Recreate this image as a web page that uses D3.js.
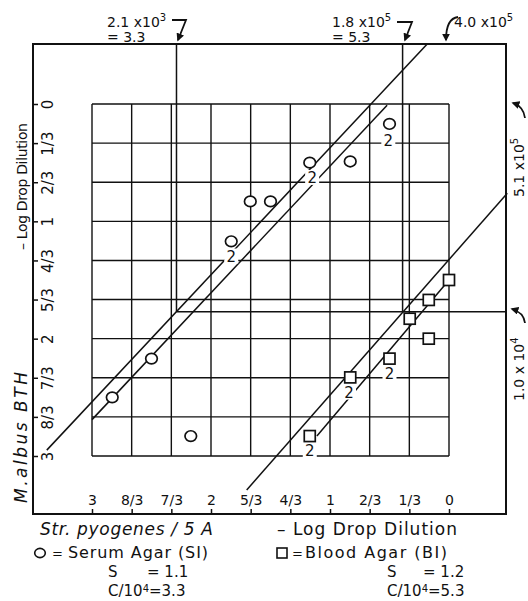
<!DOCTYPE html>
<html>
<head>
<meta charset="utf-8">
<script src="https://cdn.jsdelivr.net/npm/d3@7"></script>
<style>
  body { margin: 0; background: #fff; }
  svg { display: block; }
  svg text { font-family: "DejaVu Sans", sans-serif; fill: #111; }
</style>
</head>
<body>
<script>
// both axes are "- log drop dilution", in thirds
const tickValues = [0, 1/3, 2/3, 1, 4/3, 5/3, 2, 7/3, 8/3, 3];
const tickLabels = ["0", "1/3", "2/3", "1", "4/3", "5/3", "2", "7/3", "8/3", "3"];

// serum agar (circles)
const serumX = [2.83, 2.5, 2.17, 1.83, 1.67, 1.5, 1.17, 0.83, 0.5];
const serumY = [2.5, 2.17, 2.83, 1.17, 0.83, 0.83, 0.5, 0.49, 0.17];
// blood agar (squares)
const bloodX = [1.17, 0.83, 0.5, 0.33, 0.17, 0.17, 0];
const bloodY = [2.83, 2.33, 2.17, 1.83, 2.0, 1.67, 1.5];

// "2" marks (duplicate readings)
const dupX = [1.83, 1.15, 0.51, 0.84, 0.5, 1.17];
const dupY = [1.3, 0.63, 0.31, 2.46, 2.3, 2.95];

// fitted lines [x1, y1, x2, y2]
const serumLines = [[3.38, 2.95, 0.185, -0.51], [3.0, 2.69, 0.52, 0.01]];
const bloodLines = [[1.7, 3.29, -0.49, 0.76], [1.11, 2.83, 0, 1.5]];

// end point reading lines
const endX = [2.29, 0.39];
const endY = 1.77;

const W = 528, H = 601;
const frame = {left: 33, top: 44, right: 506, bottom: 514};

const svg = d3.select("body").append("svg")
    .attr("width", W).attr("height", H)
    .style("font-family", "'DejaVu Sans', sans-serif");

const x = d3.scaleLinear().domain([3, 0]).range([92, 449]);
const y = d3.scaleLinear().domain([0, 3]).range([104, 456]);

svg.append("defs").append("marker")
    .attr("id", "arr")
    .attr("viewBox", "0 0 10 10")
    .attr("refX", 8).attr("refY", 5)
    .attr("markerWidth", 8).attr("markerHeight", 8)
    .attr("markerUnits", "userSpaceOnUse")
    .attr("orient", "auto")
  .append("path")
    .attr("d", "M0,0 L10,5 L0,10 z")
    .attr("fill", "#111");

// grid
const grid = svg.append("g").attr("stroke", "#111").attr("stroke-width", 1.4);
grid.selectAll("line.v").data(tickValues).join("line")
    .attr("class", "v")
    .attr("x1", d => x(d)).attr("x2", d => x(d))
    .attr("y1", y(0)).attr("y2", y(3));
grid.selectAll("line.h").data(tickValues).join("line")
    .attr("class", "h")
    .attr("x1", x(3)).attr("x2", x(0))
    .attr("y1", d => y(d)).attr("y2", d => y(d));

// outer frame
svg.append("rect")
    .attr("x", frame.left).attr("y", frame.top)
    .attr("width", frame.right - frame.left)
    .attr("height", frame.bottom - frame.top)
    .attr("fill", "none").attr("stroke", "#111").attr("stroke-width", 2);

// end point reading lines
const ref = svg.append("g").attr("stroke", "#111").attr("stroke-width", 1.5);
ref.selectAll("line.rv").data(endX).join("line")
    .attr("class", "rv")
    .attr("x1", d => x(d)).attr("x2", d => x(d))
    .attr("y1", frame.top).attr("y2", y(endY));
ref.append("line")
    .attr("x1", x(endX[0])).attr("x2", frame.right)
    .attr("y1", y(endY)).attr("y2", y(endY));

// fitted lines
svg.append("g").attr("stroke", "#111").attr("stroke-width", 1.5)
  .selectAll("line").data(serumLines.concat(bloodLines)).join("line")
    .attr("x1", d => x(d[0])).attr("y1", d => y(d[1]))
    .attr("x2", d => x(d[2])).attr("y2", d => y(d[3]));

// "2" marks with a gap in the line behind them
const dup = svg.append("g").selectAll("g").data(dupX).join("g")
    .attr("transform", (d, i) => `translate(${x(d)},${y(dupY[i])})`);
dup.append("rect")
    .attr("x", -7).attr("y", -8).attr("width", 14).attr("height", 15)
    .attr("fill", "#fff");
dup.append("text")
    .attr("text-anchor", "middle").attr("dy", "0.36em")
    .attr("font-size", 15)
    .text("2");

// points
svg.append("g").selectAll("ellipse").data(serumX).join("ellipse")
    .attr("cx", d => x(d)).attr("cy", (d, i) => y(serumY[i]))
    .attr("rx", 5.8).attr("ry", 5.3)
    .attr("fill", "#fff").attr("stroke", "#111").attr("stroke-width", 1.7);
svg.append("g").selectAll("rect").data(bloodX).join("rect")
    .attr("x", d => x(d) - 5.5).attr("y", (d, i) => y(bloodY[i]) - 5.5)
    .attr("width", 11).attr("height", 11)
    .attr("fill", "#fff").attr("stroke", "#111").attr("stroke-width", 1.7);

// left axis, rotated labels
const yAxis = svg.append("g")
    .attr("transform", `translate(${frame.left},0)`)
    .call(d3.axisRight(y).tickValues(tickValues)
        .tickFormat((d, i) => tickLabels[i]).tickSize(5));
yAxis.select(".domain").remove();
yAxis.selectAll("line").attr("stroke", "#111").attr("stroke-width", 1.5);
yAxis.selectAll("text")
    .attr("x", null).attr("dy", null)
    .attr("transform", "translate(20,0) rotate(-90)")
    .attr("text-anchor", "middle")
    .attr("font-size", 15);

// bottom axis, labels above the line
const xAxis = svg.append("g")
    .attr("transform", `translate(0,${frame.bottom})`)
    .call(d3.axisTop(x).tickValues(tickValues)
        .tickFormat(d => tickLabels[tickValues.indexOf(d)]).tickSize(5).tickPadding(4));
xAxis.select(".domain").remove();
xAxis.selectAll("line").attr("stroke", "#111").attr("stroke-width", 1.5);
xAxis.selectAll("text").attr("font-size", 14);

// axis titles
svg.append("text")
    .attr("transform", "translate(27,250) rotate(-90)")
    .attr("font-size", 14).attr("textLength", 127)
    .text("\u2013 Log Drop Dilution");
svg.append("text")
    .attr("transform", "translate(27,503) rotate(-90)")
    .attr("font-size", 17).attr("font-style", "italic").attr("textLength", 131)
    .text("M.albus BTH");
svg.append("text")
    .attr("x", 277).attr("y", 535)
    .attr("font-size", 17).attr("textLength", 180)
    .text("\u2013 Log Drop Dilution");
svg.append("text")
    .attr("x", 40).attr("y", 535)
    .attr("font-size", 17).attr("font-style", "italic").attr("textLength", 173)
    .text("Str. pyogenes / 5 A");

// helper for "a x 10^b" style labels
function powText(g, base, exp, size, rise) {
  const t = g.append("text").attr("font-size", size);
  t.append("tspan").text(base);
  t.append("tspan").attr("dy", -rise).attr("font-size", 10).text(exp);
  return t;
}

// top annotations
powText(svg.append("g").attr("transform", "translate(107,27)"), "2.1 x10", "3", 14, 6);
svg.append("text").attr("x", 107).attr("y", 42).attr("font-size", 14).text("= 3.3");
powText(svg.append("g").attr("transform", "translate(332,27)"), "1.8 x10", "5", 14, 6);
svg.append("text").attr("x", 332).attr("y", 42).attr("font-size", 14).text("= 5.3");
powText(svg.append("g").attr("transform", "translate(454,27)"), "4.0 x10", "5", 14, 6);

// right annotations
powText(svg.append("g").attr("transform", "translate(524,197) rotate(-90)"), "5.1 x10", "5", 14, 6);
powText(svg.append("g").attr("transform", "translate(524,401) rotate(-90)"), "1.0 x 10", "4", 14, 6);

const arrows = [
  "M172,20 H186 L178,40",
  "M397,22 H412 L405,40",
  "M458,17 C450,18 446,25 446,40",
  "M525,118 C524,110 519,105 513,103",
  "M525,323 C524,315 519,311 512,309"
];
svg.append("g").selectAll("path").data(arrows).join("path")
    .attr("d", d => d)
    .attr("fill", "none").attr("stroke", "#111").attr("stroke-width", 1.8)
    .attr("marker-end", "url(#arr)");

// legend
const leg = svg.append("g");
leg.append("ellipse").attr("cx", 40).attr("cy", 553).attr("rx", 5.3).attr("ry", 4.6)
    .attr("fill", "#fff").attr("stroke", "#111").attr("stroke-width", 1.6);
leg.append("text").attr("x", 52).attr("y", 558).attr("font-size", 13).text("=");
leg.append("text").attr("x", 68).attr("y", 558).attr("font-size", 16).attr("textLength", 140)
    .text("Serum Agar (SI)");
const s1 = leg.append("text").attr("y", 577).attr("font-size", 15);
s1.append("tspan").attr("x", 108).text("S");
s1.append("tspan").attr("x", 147).text("= 1.1");
powText(leg.append("g").attr("transform", "translate(108,596)"), "C/10", "4", 15, 4)
    .append("tspan").attr("dy", 4).attr("font-size", 15).text("=3.3");

leg.append("rect").attr("x", 277).attr("y", 548).attr("width", 10).attr("height", 10)
    .attr("fill", "#fff").attr("stroke", "#111").attr("stroke-width", 1.6);
leg.append("text").attr("x", 292).attr("y", 558).attr("font-size", 13).text("=");
leg.append("text").attr("x", 305).attr("y", 558).attr("font-size", 16).attr("textLength", 142)
    .text("Blood Agar (BI)");
const s2 = leg.append("text").attr("y", 577).attr("font-size", 15);
s2.append("tspan").attr("x", 387).text("S");
s2.append("tspan").attr("x", 423).text("= 1.2");
powText(leg.append("g").attr("transform", "translate(387,596)"), "C/10", "4", 15, 4)
    .append("tspan").attr("dy", 4).attr("font-size", 15).text("=5.3");
</script>
</body>
</html>
